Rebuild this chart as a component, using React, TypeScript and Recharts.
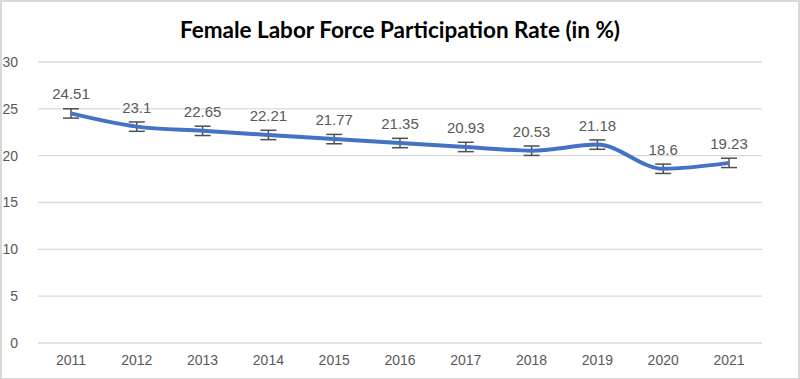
import React from 'react';
import { ComposedChart, CartesianGrid, XAxis, YAxis, Line, ErrorBar, LabelList } from 'recharts';

const years = ['2011', '2012', '2013', '2014', '2015', '2016', '2017', '2018', '2019', '2020', '2021'];
const rates = [24.51, 23.1, 22.65, 22.21, 21.77, 21.35, 20.93, 20.53, 21.18, 18.6, 19.23];
const errors = [0.5, 0.5, 0.5, 0.5, 0.5, 0.5, 0.5, 0.5, 0.5, 0.5, 0.5];
const yTicks = [0, 5, 10, 15, 20, 25, 30];

const FONT = '"Liberation Sans", "Noto Sans", sans-serif';

const App: React.FC = () => {
    const data = years.map((year, i) => ({ year, rate: rates[i], err: errors[i] }));

    return (
        <div style={{ position: 'absolute', left: 0, top: 0, width: 800, height: 379, background: '#fff' }}>
            <div
                style={{
                    position: 'absolute', left: 0, top: 0, width: 796, height: 376,
                    border: '2px solid #d9d9d9', borderRight: '3px solid #d9d9d9', boxSizing: 'content-box',
                }}
            />
            <div
                style={{
                    position: 'absolute', left: 0, top: 16, width: 800, textAlign: 'center',
                    fontFamily: 'Lato, "Open Sans", sans-serif', fontWeight: 700, fontSize: 22.5, color: '#000',
                }}
            >
                Female Labor Force Participation Rate (in %)
            </div>
            <ComposedChart
                width={800}
                height={379}
                data={data}
                margin={{ top: 62, right: 38, bottom: 6, left: 8 }}
                style={{ position: 'absolute', left: 0, top: 0 }}
            >
                <CartesianGrid vertical={false} stroke="#d9d9d9" strokeWidth={1.3} />
                <XAxis
                    dataKey="year"
                    axisLine={false}
                    tickLine={false}
                    height={30}
                    padding={{ left: 33, right: 33 }}
                    tick={{ fill: '#595959', fontSize: 14, fontFamily: FONT }}
                    tickMargin={6}
                />
                <YAxis
                    domain={[0, 30]}
                    ticks={yTicks}
                    axisLine={false}
                    tickLine={false}
                    width={30}
                    tick={{ fill: '#595959', fontSize: 14, fontFamily: FONT }}
                    tickMargin={14}
                />
                <Line
                    type="monotone"
                    dataKey="rate"
                    stroke="#4472c4"
                    strokeWidth={4}
                    dot={false}
                    activeDot={false}
                    isAnimationActive={false}
                >
                    <ErrorBar dataKey="err" width={8} stroke="#505050" strokeWidth={1.5} direction="y" isAnimationActive={false} />
                    <LabelList
                        dataKey="rate"
                        position="top"
                        offset={14}
                        style={{ fill: '#595959', fontSize: 15, fontFamily: FONT }}
                    />
                </Line>
            </ComposedChart>
        </div>
    );
};

export default App;
